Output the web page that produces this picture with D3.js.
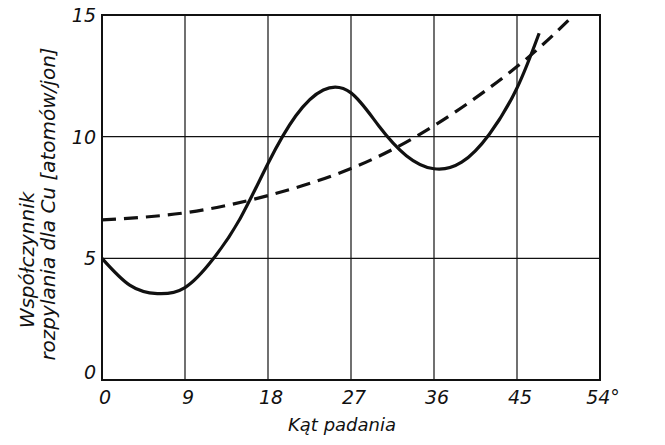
<!DOCTYPE html>
<meta charset='utf-8'>
<script src='https://d3js.org/d3.v7.min.js'></script>
<style>
body { margin: 0; background: #fff; }
text { font-family: 'DejaVu Sans', sans-serif; font-style: italic; fill: #111; }
</style>
<body>
<script>
var xTicks = [0, 9, 18, 27, 36, 45, 54];
var yTicks = [0, 5, 10, 15];

// solid curve: [angle, yield]
var solid = [
  [0, 5], [3, 3.9], [6, 3.55], [9, 3.8], [12, 4.95], [15, 6.65],
  [18, 8.9], [21, 10.85], [24, 11.92], [27, 11.8], [30, 10.45], [33, 9.22],
  [36, 8.68], [39, 8.95], [42, 10.1], [45, 12.0], [47.4, 14.25]
];

// dashed curve
var dashed = [
  [0, 6.58], [9, 6.87], [18, 7.58], [27, 8.69], [36, 10.45],
  [45, 12.88], [50.9, 14.9]
];

var width = 665, height = 445;
var m = {left: 102, right: 600, top: 15, bottom: 380};

var svg = d3.select('body').append('svg').attr('width', width).attr('height', height);

var x = d3.scaleLinear().domain([0, 54]).range([m.left, m.right]);
var y = d3.scaleLinear().domain([0, 15]).range([m.bottom, m.top]);

// grid
svg.append('g').selectAll('line').data(xTicks.slice(1, -1)).enter().append('line')
  .attr('x1', x).attr('x2', x).attr('y1', m.top).attr('y2', m.bottom)
  .attr('stroke', '#111').attr('stroke-width', 1.2);
svg.append('g').selectAll('line').data(yTicks.slice(1, -1)).enter().append('line')
  .attr('y1', y).attr('y2', y).attr('x1', m.left).attr('x2', m.right)
  .attr('stroke', '#111').attr('stroke-width', 1.2);

svg.append('rect')
  .attr('x', m.left).attr('y', m.top).attr('width', m.right - m.left).attr('height', m.bottom - m.top)
  .attr('fill', 'none').attr('stroke', '#111').attr('stroke-width', 2);

var line = d3.line()
  .x(function(d) { return x(d[0]); })
  .y(function(d) { return y(d[1]); })
  .curve(d3.curveNatural);

svg.append('path').datum(solid).attr('d', line)
  .attr('fill', 'none').attr('stroke', '#111').attr('stroke-width', 3.2);

svg.append('path').datum(dashed).attr('d', line)
  .attr('fill', 'none').attr('stroke', '#111').attr('stroke-width', 3.2)
  .attr('stroke-dasharray', '14,8');

// tick labels
svg.append('g').selectAll('text').data(xTicks).enter().append('text')
  .attr('x', function(d) { return x(d) + 3; })
  .attr('y', 404)
  .attr('text-anchor', 'middle')
  .attr('font-size', 19)
  .text(function(d) { return d === 54 ? '54°' : d; });

svg.append('g').selectAll('text').data(yTicks).enter().append('text')
  .attr('x', 96)
  .attr('y', function(d) { return d === 0 ? y(d) - 1 : y(d) + 7; })
  .attr('text-anchor', 'end')
  .attr('font-size', 19)
  .text(function(d) { return d; });

// axis titles
svg.append('text')
  .attr('x', 342).attr('y', 431)
  .attr('text-anchor', 'middle')
  .attr('font-size', 18)
  .text('Kąt padania');

svg.append('text')
  .attr('transform', 'translate(34,260) rotate(-90)')
  .attr('text-anchor', 'middle')
  .attr('font-size', 20)
  .text('Współczynnik');

svg.append('text')
  .attr('transform', 'translate(55,204) rotate(-90)')
  .attr('text-anchor', 'middle')
  .attr('font-size', 20)
  .text('rozpylania dla Cu [atomów/jon]');
</script>
</body>
